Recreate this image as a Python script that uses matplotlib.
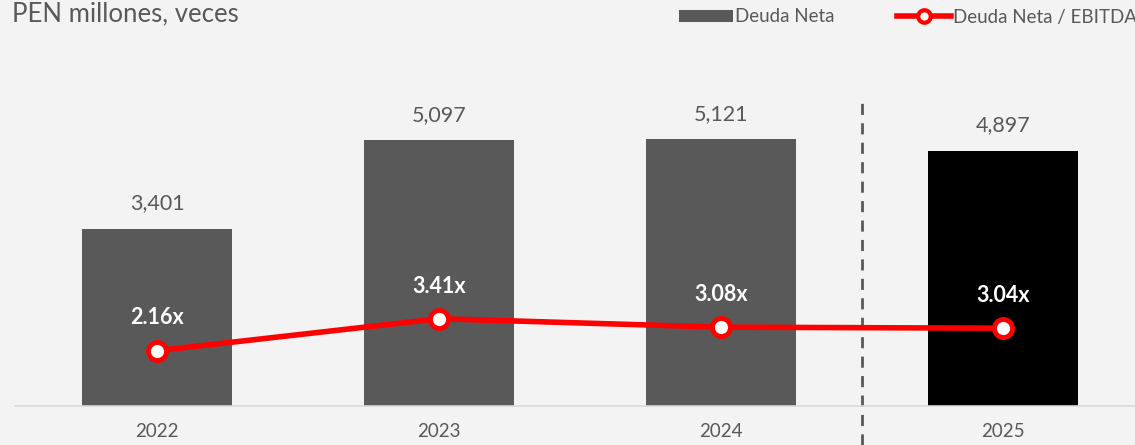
import numpy as np
import matplotlib.pyplot as plt
from matplotlib.lines import Line2D
from matplotlib.patches import Patch

plt.rcParams['font.family'] = ['Lato', 'DejaVu Sans']

# Datos
anios = ['2022', '2023', '2024', '2025']
deuda_neta = [3401, 5097, 5121, 4897]
deuda_ebitda = [2.16, 3.41, 3.08, 3.04]

GRIS = '#595959'
ROJO = '#ff0000'
FONDO = '#f3f3f3'

fig = plt.figure(figsize=(11.35, 4.45), dpi=100, facecolor=FONDO)
ax = fig.add_axes([15 / 1135, 1 - 406 / 445, 1120 / 1135, 366 / 445])
ax.set_facecolor(FONDO)

x = np.arange(len(anios))
colores = [GRIS, GRIS, GRIS, 'black']
ax.bar(x, deuda_neta, width=0.53, color=colores, zorder=2)

ax.set_xlim(-0.5035, 3.468)
ax.set_ylim(0, 7025)

for xi, v in zip(x, deuda_neta):
    ax.annotate(f'{v:,}', (xi, v), xytext=(0, 11), textcoords='offset points',
                ha='center', va='bottom', fontsize=15.5, color=GRIS)

# Eje secundario para el ratio
ax2 = ax.twinx()
ax2.set_ylim(0, 14.3)
ax2.plot(x, deuda_ebitda, color=ROJO, linewidth=4, marker='o', markersize=13,
         markerfacecolor='white', markeredgecolor=ROJO, markeredgewidth=3.5, zorder=3)
for xi, r in zip(x, deuda_ebitda):
    ax2.annotate(f'{r:.2f}x', (xi, r), xytext=(0, 16), textcoords='offset points',
                 ha='center', va='bottom', fontsize=15.5, fontweight='bold', color='white')

# Separador de proyección
ax.axvline(2.5, ymin=-0.107, ymax=0.836, color=GRIS, linestyle=(0, (4, 3)),
           linewidth=2, clip_on=False, zorder=1)

for a in (ax, ax2):
    for s in a.spines.values():
        s.set_visible(False)
    a.set_yticks([])
ax.spines['bottom'].set_visible(True)
ax.spines['bottom'].set_color('#d9d9d9')
ax.spines['bottom'].set_linewidth(1.2)
ax.set_xticks(x)
ax.set_xticklabels(anios, fontsize=13.5, color=GRIS)
ax.tick_params(axis='x', length=0, pad=12)

fig.text(12 / 1135, 1 - 14 / 445, 'PEN millones, veces', fontsize=18.5, color=GRIS,
         ha='left', va='center')

handles = [Patch(facecolor=GRIS, edgecolor='none'),
           Line2D([], [], color=ROJO, linewidth=4, marker='o', markersize=9,
                  markerfacecolor='white', markeredgecolor=ROJO, markeredgewidth=3)]
fig.legend(handles, ['Deuda Neta', 'Deuda Neta / EBITDA'], loc='center left',
           bbox_to_anchor=(662 / 1135, 1 - 17 / 445), ncol=2, frameon=False,
           fontsize=13.5, labelcolor=GRIS, handlelength=2.9, handleheight=0.55,
           handletextpad=0.1, columnspacing=3.3)

fig.savefig('out.png', dpi=100, facecolor=FONDO)
